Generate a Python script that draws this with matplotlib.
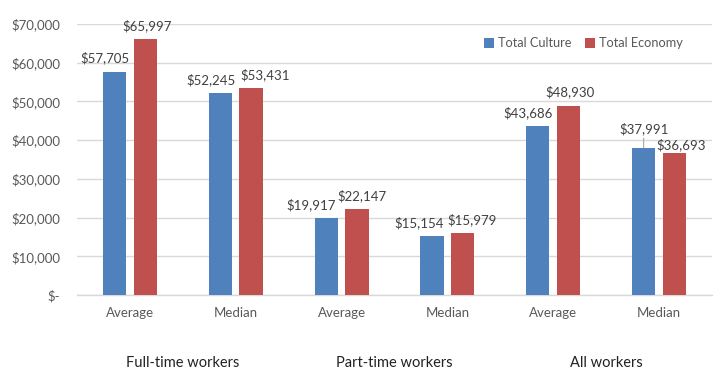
import matplotlib
matplotlib.use("Agg")
import matplotlib.pyplot as plt
import matplotlib.ticker as mtick
import numpy as np

plt.rcParams["font.family"] = ["Lato", "DejaVu Sans"]

sub_labels = ["Average", "Median", "Average", "Median", "Average", "Median"]
group_labels = ["Full-time workers", "Part-time workers", "All workers"]
culture = [57705, 52245, 19917, 15154, 43686, 37991]
economy = [65997, 53431, 22147, 15979, 48930, 36693]

# label nudges (points) so neighbouring value labels don't collide
culture_dx = [-7, -7, -11, -9, -7, 0]
economy_dx = [1, 10, 4, 6.5, 1, 5]

blue = "#4F81BD"
red = "#C0504D"
grey_text = "#595959"
grid_col = "#D9D9D9"

fig = plt.figure(figsize=(7.22, 3.90), dpi=100)
ax = fig.add_axes([0.1066, 0.2436, 0.8794, 0.6949])

x = np.arange(len(sub_labels))
w = 0.22
off = 0.145
ax.bar(x - off, culture, w, color=blue, label="Total Culture", zorder=3)
ax.bar(x + off, economy, w, color=red, label="Total Economy", zorder=3)

ax.set_ylim(0, 70000)
ax.set_xlim(-0.5, len(sub_labels) - 0.5)
ax.set_yticks(np.arange(0, 70001, 10000))


def money(v, _):
    if v == 0:
        return "$-"
    return f"${v:,.0f}"


ax.yaxis.set_major_formatter(mtick.FuncFormatter(money))
ax.yaxis.grid(True, color=grid_col, linewidth=1, zorder=0)
for s in ["top", "right", "left"]:
    ax.spines[s].set_visible(False)
ax.spines["bottom"].set_color(grid_col)
ax.spines["bottom"].set_linewidth(1)
ax.tick_params(axis="both", length=0, labelsize=9.5, labelcolor=grey_text)
ax.tick_params(axis="y", pad=12)
ax.tick_params(axis="x", pad=9)
ax.set_xticks(x)
ax.set_xticklabels(sub_labels)

# group labels below the sub-category labels
for i, g in enumerate(group_labels):
    ax.text(2 * i + 0.5, -0.251, g, transform=ax.get_xaxis_transform(),
            ha="center", va="center", fontsize=10.5, color="#222222")

# data labels
lab_kw = dict(textcoords="offset points", ha="center", va="bottom",
              fontsize=9.5, color="#404040")
for i, (c, e) in enumerate(zip(culture, economy)):
    if i == 5:
        ax.annotate(f"${c:,}", (x[i] - off, c), xytext=(0, 9),
                    arrowprops=dict(arrowstyle="-", color="#A6A6A6", lw=0.8,
                                    shrinkA=0, shrinkB=0), **lab_kw)
        ax.annotate(f"${e:,}", (x[i] + off, e), xytext=(economy_dx[i], 1),
                    **lab_kw)
        continue
    ax.annotate(f"${c:,}", (x[i] - off, c), xytext=(culture_dx[i], 5),
                **lab_kw)
    ax.annotate(f"${e:,}", (x[i] + off, e), xytext=(economy_dx[i], 5),
                **lab_kw)

leg = ax.legend(loc="upper right", bbox_to_anchor=(0.972, 0.993), ncol=2,
                frameon=False, fontsize=9.2, handlelength=0.75,
                handleheight=0.75, handletextpad=0.3, columnspacing=1.1)
for t in leg.get_texts():
    t.set_color(grey_text)

fig.savefig("out.png", dpi=100)
